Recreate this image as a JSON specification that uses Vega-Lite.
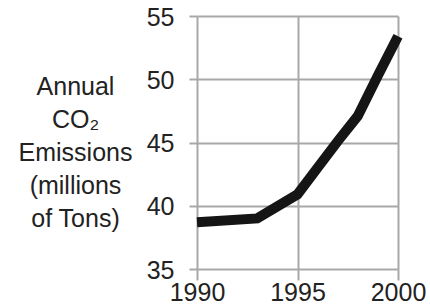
{
  "$schema": "https://vega.github.io/schema/vega-lite/v6.json",
  "width": 201,
  "height": 253,
  "autosize": {"type": "none"},
  "padding": {"left": 197, "top": 16, "right": 32, "bottom": 39},
  "background": "white",
  "config": {
    "view": {"stroke": null},
    "font": "Liberation Sans"
  },
  "data": {
    "values": [
      {"year": 1990, "co2": 38.7},
      {"year": 1993, "co2": 39.0},
      {"year": 1995, "co2": 40.9},
      {"year": 1996, "co2": 43.0},
      {"year": 1997, "co2": 45.1},
      {"year": 1998, "co2": 47.1},
      {"year": 1999, "co2": 50.3},
      {"year": 2000, "co2": 53.4}
    ]
  },
  "mark": {"type": "line", "color": "#151515", "strokeWidth": 10, "strokeCap": "butt", "strokeJoin": "miter", "clip": false},
  "encoding": {
    "x": {
      "field": "year",
      "type": "quantitative",
      "scale": {"domain": [1990, 2000], "nice": false, "zero": false},
      "axis": {
        "values": [1990, 1995, 2000],
        "format": "d",
        "title": null,
        "domain": false,
        "grid": true,
        "gridColor": "#a8a8a8",
        "gridWidth": 2,
        "gridOpacity": 1,
        "tickColor": "#a8a8a8",
        "tickWidth": 2,
        "tickSize": 11,
        "labelFontSize": 25,
        "labelColor": "#222222",
        "labelPadding": 0,
        "labelFlush": false
      }
    },
    "y": {
      "field": "co2",
      "type": "quantitative",
      "scale": {"domain": [35, 55], "nice": false, "zero": false},
      "axis": {
        "values": [35, 40, 45, 50, 55],
        "title": ["Annual", "CO₂", "Emissions", "(millions", "of Tons)"],
        "titleAngle": 0,
        "titleAlign": "center",
        "titleBaseline": "alphabetic",
        "titleX": -122,
        "titleY": 78,
        "titleFontSize": 25,
        "titleFontWeight": "normal",
        "titleColor": "#222222",
        "titleLineHeight": 33,
        "domain": false,
        "grid": true,
        "gridColor": "#a8a8a8",
        "gridWidth": 2,
        "gridOpacity": 1,
        "tickColor": "#a8a8a8",
        "tickWidth": 2,
        "tickSize": 8,
        "labelFontSize": 25,
        "labelColor": "#222222",
        "labelPadding": 15,
        "labelOffset": 1,
        "labelFlush": false
      }
    }
  }
}
